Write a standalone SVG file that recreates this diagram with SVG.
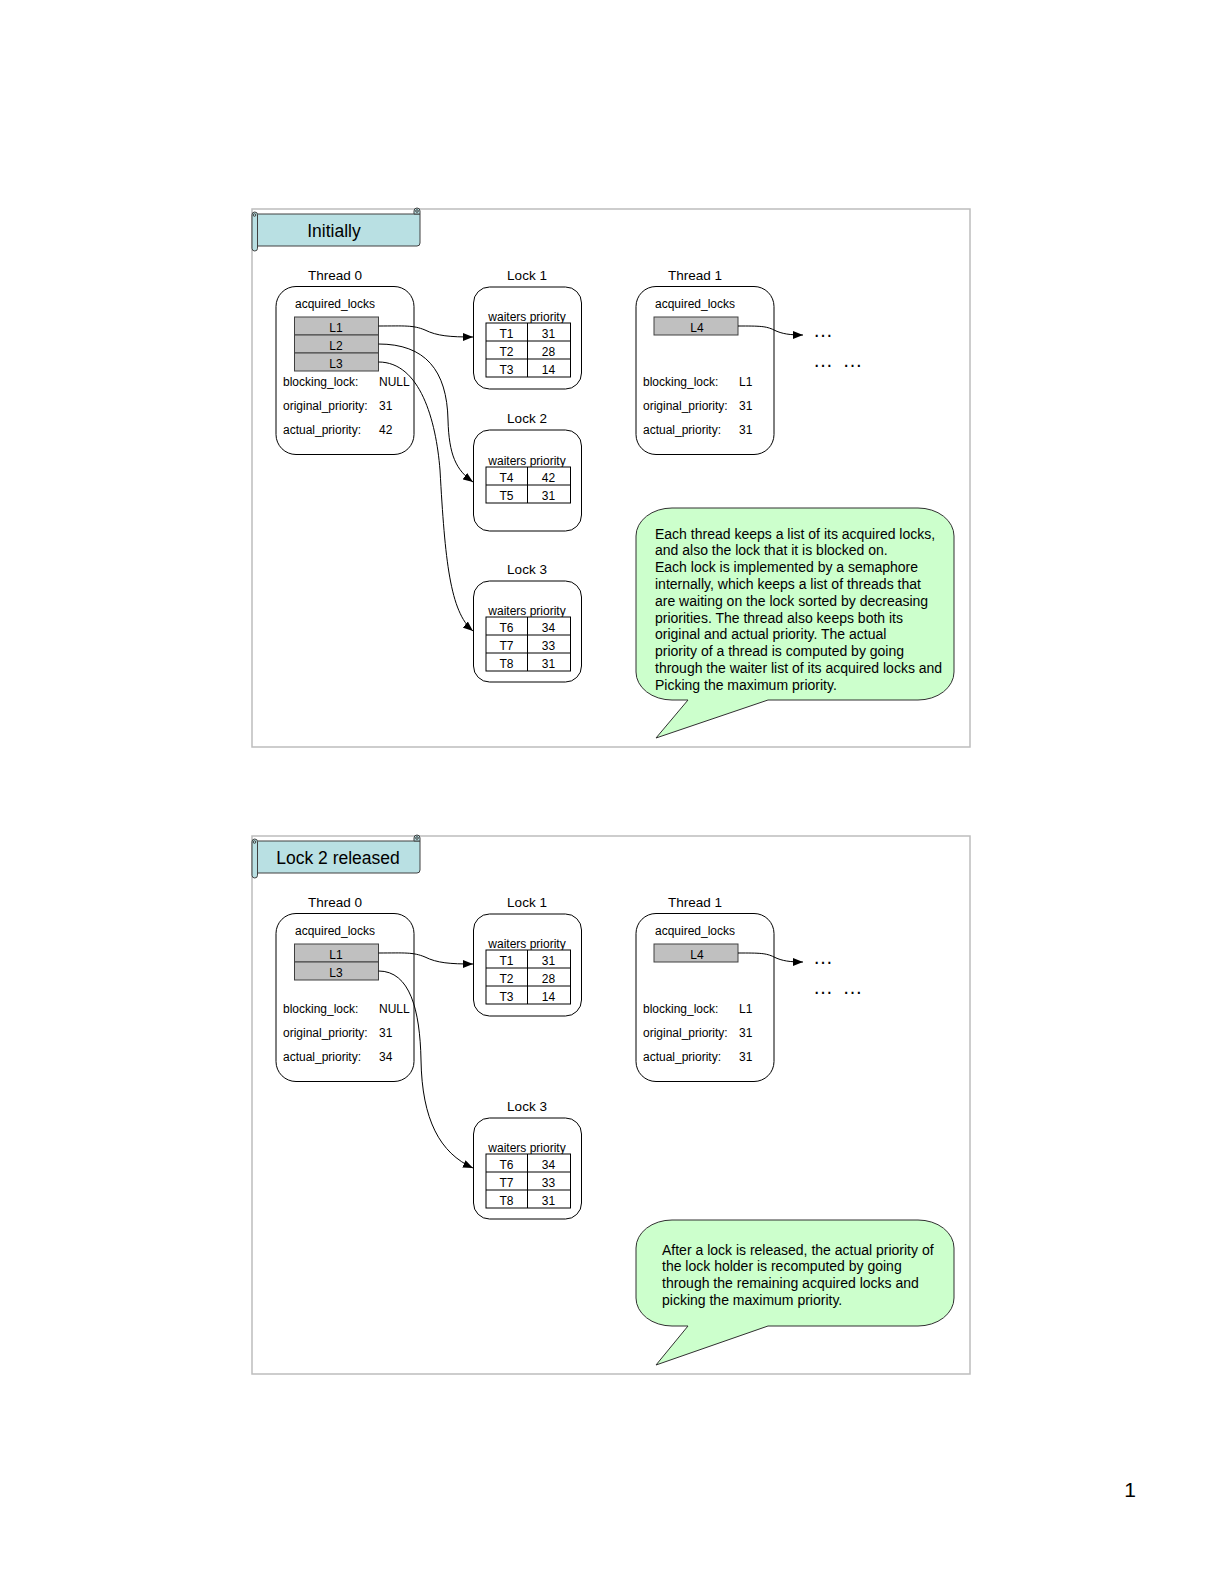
<svg xmlns="http://www.w3.org/2000/svg" width="1224" height="1584" viewBox="0 0 1224 1584">
<style>
text{font-family:"Liberation Sans",Arial,sans-serif;fill:#000}
.h{font-size:13.5px;text-anchor:middle}
.s{font-size:12px}
.m{text-anchor:middle}
.t{font-size:17.5px;text-anchor:middle}
.c{font-size:14px}
.frame{fill:none;stroke:#bdbdbd;stroke-width:1.5}
.box{fill:#fff;stroke:#000;stroke-width:1}
.lk{fill:#c0c0c0;stroke:#404040;stroke-width:1}
.tb{fill:#fff;stroke:#000;stroke-width:1}
.ban{fill:#b9e0e3;stroke:#404040;stroke-width:1}
.call{fill:#ccffcc;stroke:#303030;stroke-width:1}
.con{fill:none;stroke:#000;stroke-width:1;marker-end:url(#ah)}
.dots{font-size:20px}
</style>
<defs>
<marker id="ah" viewBox="0 0 10 8" refX="10" refY="4" markerWidth="10" markerHeight="8" orient="auto" markerUnits="userSpaceOnUse">
<path d="M0,0 L10,4 L0,8 Z" fill="#000"/>
</marker>
<g id="tbl3">
<rect class="tb" x="486" y="0" width="84.5" height="54"/>
<line x1="527.5" y1="0" x2="527.5" y2="54" stroke="#000"/>
<line x1="486" y1="18" x2="570.5" y2="18" stroke="#000"/>
<line x1="486" y1="36" x2="570.5" y2="36" stroke="#000"/>
</g>
</defs>

<!-- ================= Panel 1 ================= -->
<rect class="frame" x="252" y="209" width="718" height="538"/>

<g id="p1-banner">
<path class="ban" d="M257,214 H420 V243 Q420,246 417,246 H257 Z"/>
<path class="ban" d="M414,214 V211 A3,3 0 0 1 420,211 V214 Z"/>
<circle class="ban" cx="417" cy="211" r="1.3"/>
<rect class="ban" x="252" y="212" width="5.5" height="39" rx="2.75"/>
<circle class="ban" cx="254.5" cy="215" r="1.3"/>
<text class="t" x="334" y="237">Initially</text>
</g>

<g id="p1-thread0">
<text class="h" x="335" y="280">Thread 0</text>
<rect class="box" x="276" y="286.5" width="138" height="168" rx="20"/>
<text class="s m" x="335" y="308">acquired_locks</text>
<rect class="lk" x="294.5" y="317" width="84" height="18"/>
<rect class="lk" x="294.5" y="335" width="84" height="18"/>
<rect class="lk" x="294.5" y="353" width="84" height="18"/>
<text class="s m" x="336" y="331.5">L1</text>
<text class="s m" x="336" y="349.5">L2</text>
<text class="s m" x="336" y="367.5">L3</text>
<text class="s" x="283" y="386">blocking_lock:</text>
<text class="s" x="379" y="386">NULL</text>
<text class="s" x="283" y="410">original_priority:</text>
<text class="s" x="379" y="410">31</text>
<text class="s" x="283" y="434">actual_priority:</text>
<text class="s" x="379" y="434">42</text>
</g>

<g id="p1-lock1">
<text class="h" x="527" y="280">Lock 1</text>
<rect class="box" x="473.5" y="287" width="108" height="102" rx="16"/>
<text class="s m" x="527" y="320.5">waiters priority</text>
<use href="#tbl3" y="323"/>
<text class="s m" x="506.5" y="337.5">T1</text><text class="s m" x="548.5" y="337.5">31</text>
<text class="s m" x="506.5" y="355.5">T2</text><text class="s m" x="548.5" y="355.5">28</text>
<text class="s m" x="506.5" y="373.5">T3</text><text class="s m" x="548.5" y="373.5">14</text>
</g>

<g id="p1-lock2">
<text class="h" x="527" y="423">Lock 2</text>
<rect class="box" x="473.5" y="430" width="108" height="101" rx="16"/>
<text class="s m" x="527" y="464.5">waiters priority</text>
<rect class="tb" x="486" y="467" width="84.5" height="36"/>
<line x1="527.5" y1="467" x2="527.5" y2="503" stroke="#000"/>
<line x1="486" y1="485" x2="570.5" y2="485" stroke="#000"/>
<text class="s m" x="506.5" y="481.5">T4</text><text class="s m" x="548.5" y="481.5">42</text>
<text class="s m" x="506.5" y="499.5">T5</text><text class="s m" x="548.5" y="499.5">31</text>
</g>

<g id="p1-lock3">
<text class="h" x="527" y="574">Lock 3</text>
<rect class="box" x="473.5" y="581" width="108" height="101" rx="16"/>
<text class="s m" x="527" y="614.5">waiters priority</text>
<use href="#tbl3" y="617"/>
<text class="s m" x="506.5" y="631.5">T6</text><text class="s m" x="548.5" y="631.5">34</text>
<text class="s m" x="506.5" y="649.5">T7</text><text class="s m" x="548.5" y="649.5">33</text>
<text class="s m" x="506.5" y="667.5">T8</text><text class="s m" x="548.5" y="667.5">31</text>
</g>

<g id="p1-thread1">
<text class="h" x="695" y="280">Thread 1</text>
<rect class="box" x="636" y="286.5" width="138" height="168" rx="20"/>
<text class="s m" x="695" y="308">acquired_locks</text>
<rect class="lk" x="654" y="317" width="84" height="18"/>
<text class="s m" x="697" y="331.5">L4</text>
<text class="s" x="643" y="386">blocking_lock:</text>
<text class="s" x="739" y="386">L1</text>
<text class="s" x="643" y="410">original_priority:</text>
<text class="s" x="739" y="410">31</text>
<text class="s" x="643" y="434">actual_priority:</text>
<text class="s" x="739" y="434">31</text>
</g>

<g id="p1-more">
<text class="dots" x="813" y="337">…</text>
<text class="dots" x="813" y="367" word-spacing="4">… …</text>
</g>

<g id="p1-note">
<path class="call" d="M672,508 H918 A36,28 0 0 1 954,536 V672 A36,28 0 0 1 918,700 H768 L656,738 L688,700 H672 A36,28 0 0 1 636,672 V536 A36,28 0 0 1 672,508 Z"/>
<text class="c" x="655" y="538.5">Each thread keeps a list of its acquired locks,</text>
<text class="c" x="655" y="555.3">and also the lock that it is blocked on.</text>
<text class="c" x="655" y="572.1">Each lock is implemented by a semaphore</text>
<text class="c" x="655" y="588.9">internally, which keeps a list of threads that</text>
<text class="c" x="655" y="605.7">are waiting on the lock sorted by decreasing</text>
<text class="c" x="655" y="622.5">priorities. The thread also keeps both its</text>
<text class="c" x="655" y="639.3">original and actual priority. The actual</text>
<text class="c" x="655" y="656.1">priority of a thread is computed by going</text>
<text class="c" x="655" y="672.9">through the waiter list of its acquired locks and</text>
<text class="c" x="655" y="689.7">Picking the maximum priority.</text>
</g>

<g id="p1-connectors">
<path class="con" d="M378.5,326 C405,326 413,325 425,330 C437,336 450,337 473,337"/>
<path class="con" d="M378.5,344 C425,344 447,370 448,420 C449,455 456,470 473,482"/>
<path class="con" d="M378.5,362 C420,362 436,420 440,470 C445,560 450,612 473,631"/>
<path class="con" d="M738,326 C760,326 766,326 774,330 C782,334 790,335 803,335"/>
</g>

<!-- ================= Panel 2 ================= -->
<rect class="frame" x="252" y="836" width="718" height="538"/>

<g id="p2-banner" transform="translate(0,627)">
<path class="ban" d="M257,214 H420 V243 Q420,246 417,246 H257 Z"/>
<path class="ban" d="M414,214 V211 A3,3 0 0 1 420,211 V214 Z"/>
<circle class="ban" cx="417" cy="211" r="1.3"/>
<rect class="ban" x="252" y="212" width="5.5" height="39" rx="2.75"/>
<circle class="ban" cx="254.5" cy="215" r="1.3"/>
<text class="t" x="338" y="237">Lock 2 released</text>
</g>

<g id="p2-thread0" transform="translate(0,627)">
<text class="h" x="335" y="280">Thread 0</text>
<rect class="box" x="276" y="286.5" width="138" height="168" rx="20"/>
<text class="s m" x="335" y="308">acquired_locks</text>
<rect class="lk" x="294.5" y="317" width="84" height="18"/>
<rect class="lk" x="294.5" y="335" width="84" height="18"/>
<text class="s m" x="336" y="331.5">L1</text>
<text class="s m" x="336" y="349.5">L3</text>
<text class="s" x="283" y="386">blocking_lock:</text>
<text class="s" x="379" y="386">NULL</text>
<text class="s" x="283" y="410">original_priority:</text>
<text class="s" x="379" y="410">31</text>
<text class="s" x="283" y="434">actual_priority:</text>
<text class="s" x="379" y="434">34</text>
</g>

<g id="p2-lock1" transform="translate(0,627)">
<text class="h" x="527" y="280">Lock 1</text>
<rect class="box" x="473.5" y="287" width="108" height="102" rx="16"/>
<text class="s m" x="527" y="320.5">waiters priority</text>
<use href="#tbl3" y="323"/>
<text class="s m" x="506.5" y="337.5">T1</text><text class="s m" x="548.5" y="337.5">31</text>
<text class="s m" x="506.5" y="355.5">T2</text><text class="s m" x="548.5" y="355.5">28</text>
<text class="s m" x="506.5" y="373.5">T3</text><text class="s m" x="548.5" y="373.5">14</text>
</g>

<g id="p2-lock3" transform="translate(0,537)">
<text class="h" x="527" y="574">Lock 3</text>
<rect class="box" x="473.5" y="581" width="108" height="101" rx="16"/>
<text class="s m" x="527" y="614.5">waiters priority</text>
<use href="#tbl3" y="617"/>
<text class="s m" x="506.5" y="631.5">T6</text><text class="s m" x="548.5" y="631.5">34</text>
<text class="s m" x="506.5" y="649.5">T7</text><text class="s m" x="548.5" y="649.5">33</text>
<text class="s m" x="506.5" y="667.5">T8</text><text class="s m" x="548.5" y="667.5">31</text>
</g>

<g id="p2-thread1" transform="translate(0,627)">
<text class="h" x="695" y="280">Thread 1</text>
<rect class="box" x="636" y="286.5" width="138" height="168" rx="20"/>
<text class="s m" x="695" y="308">acquired_locks</text>
<rect class="lk" x="654" y="317" width="84" height="18"/>
<text class="s m" x="697" y="331.5">L4</text>
<text class="s" x="643" y="386">blocking_lock:</text>
<text class="s" x="739" y="386">L1</text>
<text class="s" x="643" y="410">original_priority:</text>
<text class="s" x="739" y="410">31</text>
<text class="s" x="643" y="434">actual_priority:</text>
<text class="s" x="739" y="434">31</text>
</g>

<g id="p2-more" transform="translate(0,627)">
<text class="dots" x="813" y="337">…</text>
<text class="dots" x="813" y="367" word-spacing="4">… …</text>
</g>

<g id="p2-note">
<path class="call" d="M672,1220 H918 A36,28 0 0 1 954,1248 V1298 A36,28 0 0 1 918,1326 H768 L656,1365 L688,1326 H672 A36,28 0 0 1 636,1298 V1248 A36,28 0 0 1 672,1220 Z"/>
<text class="c" x="662" y="1254.5">After a lock is released, the actual priority of</text>
<text class="c" x="662" y="1271.3">the lock holder is recomputed by going</text>
<text class="c" x="662" y="1288.1">through the remaining acquired locks and</text>
<text class="c" x="662" y="1304.9">picking the maximum priority.</text>
</g>

<g id="p2-connectors">
<path class="con" d="M378.5,953 C405,953 413,952 425,957 C437,963 450,964 473,964"/>
<path class="con" d="M378.5,971 C410,971 420,1010 421,1060 C422,1120 440,1153 473,1168"/>
<path class="con" d="M738,953 C760,953 766,953 774,957 C782,961 790,962 803,962"/>
</g>

<text id="page-number" x="1130" y="1497" font-size="21" text-anchor="middle">1</text>
</svg>
